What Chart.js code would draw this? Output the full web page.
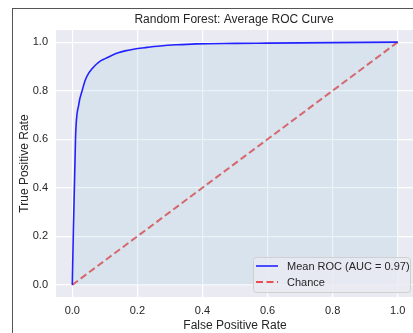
<!DOCTYPE html>
<html>
<head>
<meta charset="utf-8">
<script src="https://cdn.jsdelivr.net/npm/chart.js@4"></script>
<style>
  html, body { margin: 0; padding: 0; background: #fff; overflow: hidden; }
  #frame { position: absolute; left: 12px; top: 8px; width: 420px; height: 340px;
           border-top: 1px solid #555; border-left: 1px solid #555; }
  #wrap { position: absolute; left: 0; top: 0; width: 420px; height: 333px; }
</style>
</head>
<body>
<div id="frame"></div>
<div id="wrap"><canvas id="myChart"></canvas></div>
<script>
// mean ROC
var fpr = [0, 0.0101, 0.0202, 0.0303, 0.0404, 0.0505, 0.0606, 0.0707, 0.0808, 0.0909,
           0.101, 0.121, 0.141, 0.162, 0.192, 0.222, 0.27, 0.32, 0.38, 0.50, 0.60, 0.70, 0.80, 0.90, 1.0];
var meanTpr = [0, 0.61, 0.745, 0.80, 0.845, 0.872, 0.89, 0.905, 0.917, 0.926,
               0.932, 0.945, 0.956, 0.964, 0.972, 0.977, 0.984, 0.989, 0.993, 0.995, 0.996, 0.997, 0.998, 0.999, 1.0];
var chanceX = [0, 1];
var chanceY = [0, 1];
var ticks = [0, 0.2, 0.4, 0.6, 0.8, 1.0];
var chartTitle = 'Random Forest: Average ROC Curve';

var labelFont = '"Liberation Sans", Arial, sans-serif';
Chart.defaults.font.family = labelFont;
Chart.defaults.color = '#262626';

function pts(xs, ys) {
  return xs.map(function (x, i) { return { x: x, y: ys[i] }; });
}

// plot background, title over the axes, legend inside the axes
var axesBox = {
  id: 'axesBox',
  beforeDraw: function (chart) {
    var a = chart.chartArea, c = chart.ctx;
    c.save();
    c.fillStyle = '#eaeaf2';
    c.fillRect(a.left, a.top, a.right - a.left, a.bottom - a.top);
    c.font = '12px ' + labelFont;
    c.fillStyle = '#262626';
    c.textAlign = 'center';
    c.textBaseline = 'middle';
    c.fillText(chartTitle, (a.left + a.right) / 2 - 1, 20);
    c.restore();
  },
  afterDatasetsDraw: function (chart) {
    var c = chart.ctx;
    var x0 = 253, y0 = 257, w = 157, h = 35;
    c.save();
    c.beginPath();
    c.roundRect(x0 + 0.5, y0 + 0.5, w, h, 3);
    c.fillStyle = 'rgba(234,234,242,0.85)';
    c.fill();
    c.strokeStyle = '#d0d0d0';
    c.lineWidth = 1;
    c.stroke();
    c.font = '11px ' + labelFont;
    c.textBaseline = 'middle';
    chart.data.datasets.forEach(function (ds, i) {
      var yy = y0 + 9 + i * 16;
      c.beginPath();
      c.strokeStyle = ds.borderColor;
      c.lineWidth = ds.borderWidth;
      c.setLineDash(ds.borderDash || []);
      c.moveTo(x0 + 3, yy);
      c.lineTo(x0 + 25, yy);
      c.stroke();
      c.setLineDash([]);
      c.fillStyle = '#262626';
      c.fillText(ds.label, x0 + 34, yy + 0.5);
    });
    c.restore();
  }
};

var ctx = document.getElementById('myChart');

var myChart = new Chart(ctx, {
  type: 'line',
  data: {
    datasets: [{
      label: 'Mean ROC (AUC = 0.97)',
      data: pts(fpr, meanTpr),
      borderColor: '#2222ff',
      borderWidth: 1.6,
      backgroundColor: 'rgba(144,199,222,0.2)',
      fill: 'origin',
      pointRadius: 0,
      cubicInterpolationMode: 'monotone'
    }, {
      label: 'Chance',
      data: pts(chanceX, chanceY),
      borderColor: 'rgba(232,62,62,0.9)',
      borderWidth: 2,
      borderDash: [7, 3.5],
      fill: false,
      pointRadius: 0
    }]
  },
  plugins: [axesBox],
  options: {
    responsive: true,
    maintainAspectRatio: false,
    animation: false,
    layout: { padding: { left: 0, right: 6, top: 30, bottom: 0 } },
    plugins: {
      legend: { display: false },
      tooltip: { enabled: false },
      title: { display: false }
    },
    scales: {
      x: {
        type: 'linear',
        min: -0.05,
        max: 1.05,
        afterBuildTicks: function (s) { s.ticks = ticks.map(function (v) { return { value: v }; }); },
        afterFit: function (s) { s.height = 36; },
        ticks: { font: { size: 11 }, padding: 7, callback: function (v) { return v.toFixed(1); } },
        grid: { color: '#ffffff', lineWidth: 1.2, drawTicks: false },
        border: { display: false },
        title: { display: true, text: 'False Positive Rate', font: { size: 12 }, padding: { top: 0, bottom: 0 } }
      },
      y: {
        type: 'linear',
        min: -0.05,
        max: 1.05,
        afterBuildTicks: function (s) { s.ticks = ticks.map(function (v) { return { value: v }; }); },
        afterFit: function (s) { s.width = 56; },
        ticks: { font: { size: 11 }, padding: 8, callback: function (v) { return v.toFixed(1); } },
        grid: { color: '#ffffff', lineWidth: 1.2, drawTicks: false },
        border: { display: false },
        title: { display: true, text: 'True Positive Rate', font: { size: 12 }, padding: { top: 17, bottom: 2 } }
      }
    }
  }
});
</script>
</body>
</html>
